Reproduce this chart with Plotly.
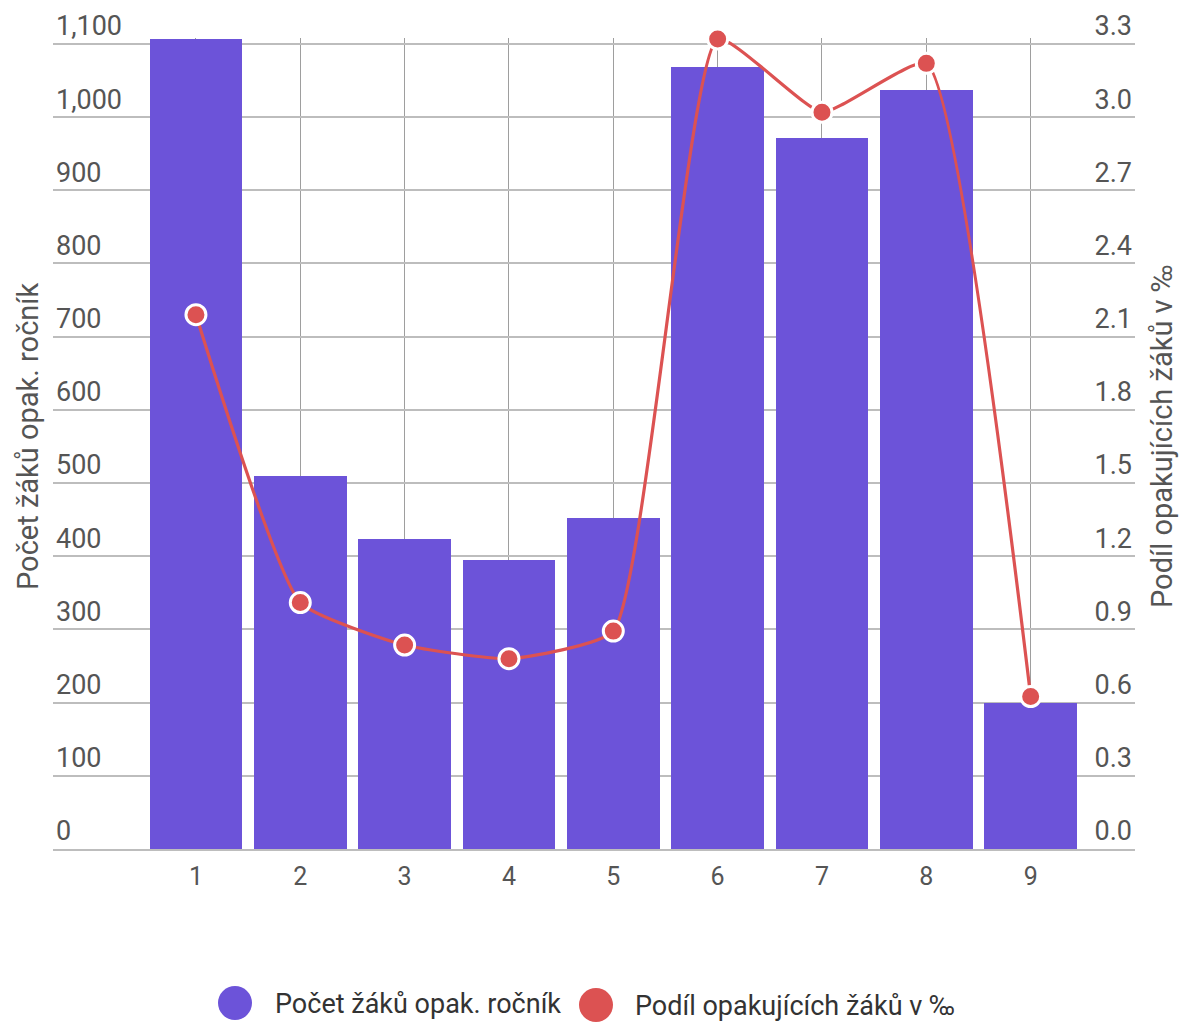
import plotly.graph_objects as go

categories = [1, 2, 3, 4, 5, 6, 7, 8, 9]
pocet_zaku = [1107, 510, 423, 395, 452, 1069, 972, 1037, 200]
podil_promile = [2.19, 1.01, 0.836, 0.78, 0.893, 3.32, 3.02, 3.22, 0.625]
left_ticks = list(range(0, 1101, 100))
right_ticks = [round(i * 0.3, 1) for i in range(12)]

name_bar = "Počet žáků opak. ročník"
name_line = "Podíl opakujících žáků v ‰"

BAR_COLOR = "#6c53d9"
LINE_COLOR = "#dc5252"
FONT = "Roboto"

fig = go.Figure()
fig.add_trace(go.Bar(
    x=categories, y=pocet_zaku, name=name_bar,
    marker=dict(color=BAR_COLOR, line=dict(width=0)),
    width=0.89, yaxis="y", showlegend=False,
))
fig.add_trace(go.Scatter(
    x=categories, y=podil_promile, name=name_line, mode="lines+markers",
    line=dict(color=LINE_COLOR, width=3.2, shape="spline", smoothing=0.45),
    marker=dict(color=LINE_COLOR, size=20, line=dict(color="white", width=3)),
    yaxis="y2", cliponaxis=False, showlegend=False,
))

ymax = 1108
fig.update_layout(
    width=1179, height=1023,
    margin=dict(l=53, r=44, t=38, b=174, autoexpand=False),
    plot_bgcolor="white", paper_bgcolor="white",
    font=dict(family=FONT, color="#555555"),
    showlegend=False,
    xaxis=dict(
        range=[-0.37, 10.0], tickvals=categories, ticktext=[str(c) for c in categories],
        showgrid=True, gridcolor="#9e9e9e", gridwidth=1, zeroline=False,
        showline=True, linecolor="#bdbdbd", linewidth=2, automargin=False,
        ticks="", tickfont=dict(size=25, color="#555555"),
        ticklabelstandoff=4,
    ),
    yaxis=dict(
        range=[0, ymax], tickvals=left_ticks, tickformat=",d",
        showgrid=True, gridcolor="#bdbdbd", gridwidth=2, zeroline=False,
        showline=False, ticks="", ticklabelposition="inside", automargin=False,
        ticklabeloverflow="allow", ticklabelshift=-18, ticklabelstandoff=0,
        tickfont=dict(size=27, color="#555555"),
    ),
    yaxis2=dict(
        range=[0, ymax / 1100 * 3.3], tickvals=right_ticks, tickformat=".1f",
        overlaying="y", side="right", showgrid=False, zeroline=False,
        showline=False, ticks="", ticklabelposition="inside", automargin=False,
        ticklabeloverflow="allow", ticklabelshift=-18, ticklabelstandoff=0,
        tickfont=dict(size=27, color="#555555"),
    ),
    bargap=0,
)

def px_x(p):
    return (p - 53) / 1082

def px_y(p):
    return (849 - p) / 811

# axis titles
fig.add_annotation(xref="paper", yref="paper", x=px_x(28), y=px_y(436),
                   xanchor="center", yanchor="middle", showarrow=False, textangle=-90,
                   text=name_bar, font=dict(size=29, color="#555555", family=FONT))
fig.add_annotation(xref="paper", yref="paper", x=px_x(1162), y=px_y(436),
                   xanchor="center", yanchor="middle", showarrow=False, textangle=-90,
                   text=name_line, font=dict(size=29, color="#555555", family=FONT))

# custom legend (large circular symbols)
legend_items = [(235, 1003, 273, name_bar, BAR_COLOR), (596, 1005, 633, name_line, LINE_COLOR)]
for cx, cy, tx, label, col in legend_items:
    fig.add_shape(type="circle", xref="paper", yref="paper",
                  xsizemode="pixel", ysizemode="pixel",
                  xanchor=px_x(cx), yanchor=px_y(cy),
                  x0=-17, x1=17, y0=-17, y1=17,
                  fillcolor=col, line=dict(width=0))
    fig.add_annotation(xref="paper", yref="paper", x=px_x(tx), y=px_y(cy + 1),
                       xanchor="left", yanchor="middle", showarrow=False,
                       text=label, font=dict(size=27, color="#333333", family=FONT))

fig.write_html("out.html", config={"displayModeBar": False},
               post_script="document.body.style.margin='0';document.body.style.overflow='hidden';")
